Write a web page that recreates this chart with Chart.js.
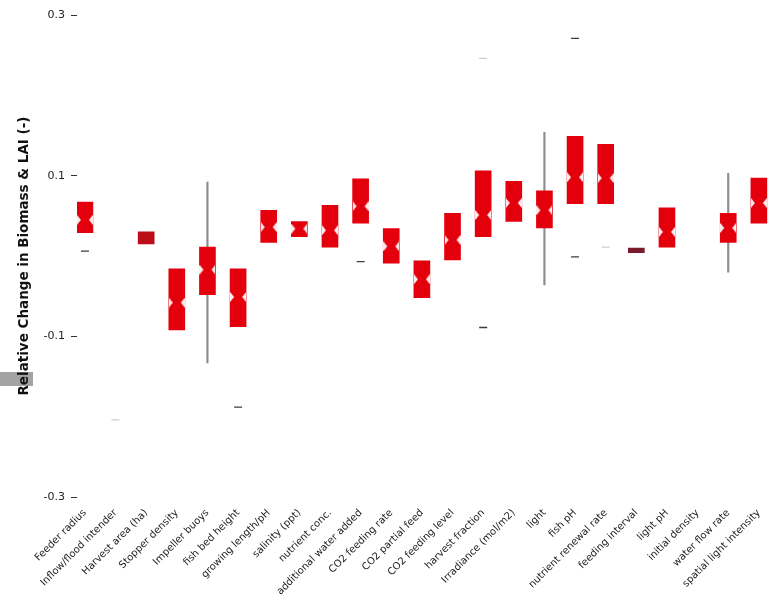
<!DOCTYPE html>
<html lang="en">
<head>
<meta charset="utf-8">
<title>Relative change by factor</title>
<script src="https://cdn.jsdelivr.net/npm/chart.js@4/dist/chart.umd.min.js"></script>
<style>
  html, body { margin: 0; background: #fff; overflow: hidden; }
  #wrap { position: relative; width: 771px; height: 612px; overflow: hidden; }
  .tag { position: absolute; left: 0; top: 372px; width: 33px; height: 14px; background: #a3a3a3; }
  canvas { position: absolute; left: 0; top: 0; }
</style>
</head>
<body>
<div id="wrap">
  <div class="tag"></div>
  <canvas id="c" width="800" height="612"></canvas>
</div>
<script>
// One box per factor; null where a factor has no box.
const FACTORS = [
  'Feeder radius', 'Inflow/flood intender', 'Harvest area (ha)', 'Stopper density',
  'Impeller buoys', 'fish bed height', 'growing length/pH', 'salinity (ppt)',
  'nutrient conc.', 'additional water added', 'CO2 feeding rate', 'CO2 partial feed',
  'CO2 feeding level', 'harvest fraction', 'Irradiance (mol/m2)', 'light',
  'fish pH', 'nutrient renewal rate', 'feeding interval', 'light pH',
  'initial density', 'water flow rate', 'spatial light intensity',
];
const Q1     = [0.029, null, 0.015, -0.092, -0.048, -0.088, 0.017, 0.024, 0.011, 0.041, -0.009, -0.052, -0.005, 0.024, 0.043, 0.035, 0.065, 0.065, 0.004, 0.011, null, 0.017, 0.041];
const MEDIAN = [0.045, null, 0.022, -0.058, -0.017, -0.051, 0.036, 0.034, 0.032, 0.062, 0.012, -0.029, 0.020, 0.051, 0.066, 0.057, 0.098, 0.097, 0.007, 0.030, null, 0.035, 0.066];
const Q3     = [0.067, null, 0.030, -0.016, 0.011, -0.016, 0.057, 0.043, 0.063, 0.096, 0.034, -0.006, 0.053, 0.106, 0.093, 0.081, 0.149, 0.139, 0.010, 0.060, null, 0.053, 0.097];
const WHISKER_LO = [null, null, null, null, -0.133, null, null, null, null, null, null, null, null, null, null, -0.036, null, null, null, null, null, -0.020, null];
const WHISKER_HI = [null, null, null, null, 0.092, null, null, null, null, null, null, null, null, null, null, 0.154, null, null, null, null, null, 0.103, null];
const OUTLIER_AT  = [0, 5, 9, 13, 16, 16];
const OUTLIER_VAL = [0.006, -0.188, -0.007, -0.089, -0.001, 0.271];
const FAINT_AT    = [1, 13, 17];
const FAINT_VAL   = [-0.204, 0.246, 0.011];

const RED = '#e3000c';
const DARK_BOX = { 2: '#bb0d1a', 18: '#7b1a2b' };

const pts = (lo, hi) => lo.map((v, i) => (v == null || hi[i] == null ? null : { x: i, y: [v, hi[i]] })).filter(Boolean);

// White wedges cut into both sides of a box at its median.
const notch = document.createElement('canvas');
notch.width = 16; notch.height = 10;
const g = notch.getContext('2d');
g.fillStyle = 'rgba(255,255,255,0.92)';
g.beginPath(); g.moveTo(0, 0); g.lineTo(4, 5); g.lineTo(0, 10); g.closePath(); g.fill();
g.beginPath(); g.moveTo(16, 0); g.lineTo(12, 5); g.lineTo(16, 10); g.closePath(); g.fill();

const boxes = pts(Q1, Q3);

new Chart(document.getElementById('c'), {
  type: 'bar',
  data: {
    datasets: [
      {
        label: 'whisker',
        data: pts(WHISKER_LO, WHISKER_HI),
        backgroundColor: '#8c8c8c',
        barThickness: 1.5,
        grouped: false,
        order: 3,
      },
      {
        label: 'box',
        data: boxes,
        backgroundColor: boxes.map(b => DARK_BOX[b.x] || RED),
        barThickness: 16,
        grouped: false,
        order: 2,
      },
      {
        type: 'scatter',
        label: 'median',
        data: MEDIAN.map((v, i) => (v == null ? null : { x: i, y: v })).filter(Boolean),
        pointStyle: ctx => {
          const i = ctx.raw && ctx.raw.x;
          return Q3[i] - Q1[i] >= 0.018 ? notch : false;
        },
        order: 1,
      },
      {
        type: 'scatter',
        label: 'outlier',
        data: OUTLIER_AT.map((x, k) => ({ x, y: OUTLIER_VAL[k] })),
        pointStyle: 'line',
        radius: 4,
        borderColor: '#3c3c3c',
        borderWidth: 1.3,
        order: 0,
      },
      {
        type: 'scatter',
        label: 'faint outlier',
        data: FAINT_AT.map((x, k) => ({ x, y: FAINT_VAL[k] })),
        pointStyle: 'line',
        radius: 4,
        borderColor: '#cfcfcf',
        borderWidth: 1.3,
        order: 0,
      },
    ],
  },
  options: {
    responsive: false, animation: false, devicePixelRatio: 1,
    layout: { padding: { top: 15, left: 0, right: 0, bottom: 0 } },
    plugins: { legend: { display: false }, tooltip: { enabled: false } },
    scales: {
      x: {
        type: 'linear', offset: false,
        min: -0.258, max: 23.06,
        grid: { display: false },
        border: { display: false },
        ticks: {
          stepSize: 1, includeBounds: false, autoSkip: false,
          minRotation: 45, maxRotation: 45, padding: 2,
          color: '#222', font: { family: 'DejaVu Sans', size: 10 },
          callback: v => FACTORS[v] ?? '',
        },
        afterFit: s => { s.height = 115; },
      },
      y: {
        min: -0.3, max: 0.3,
        grid: { drawOnChartArea: false, drawTicks: true, tickLength: 6, color: '#333' },
        border: { display: false },
        ticks: { stepSize: 0.2, padding: 6, color: '#222', font: { family: 'DejaVu Sans', size: 11 } },
        title: {
          display: true,
          text: 'Relative Change in Biomass & LAI (-)',
          color: '#111',
          font: { family: 'DejaVu Sans', size: 13.5, weight: 'bold' },
          padding: { top: 16, bottom: 0 },
        },
        afterFit: s => { s.width = 77; },
      },
    },
  },
});
</script>
</body>
</html>
